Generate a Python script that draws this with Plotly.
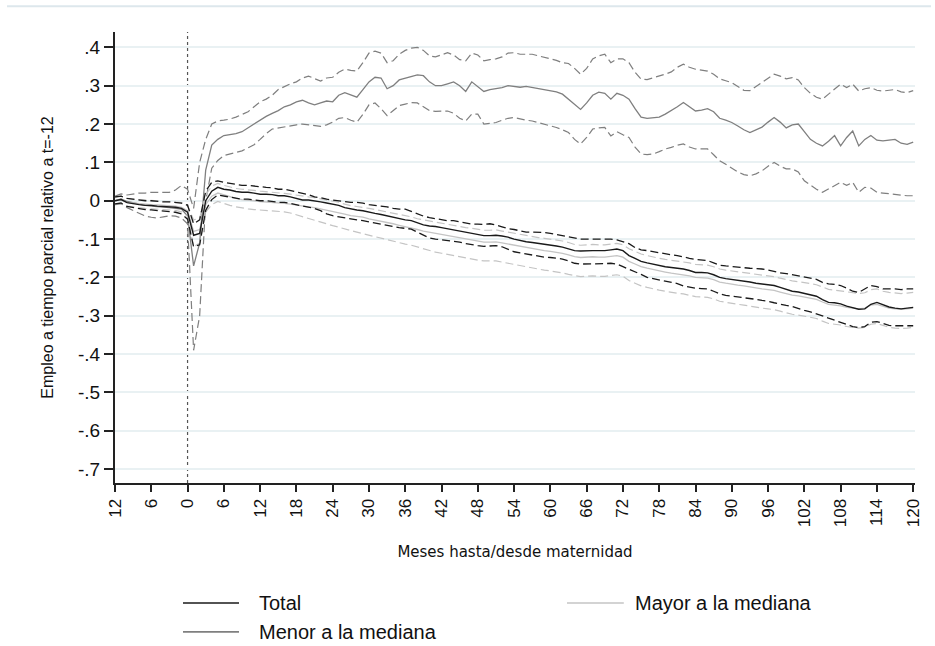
import plotly.graph_objects as go

months = list(range(-12, 121))

x_tick_vals = list(range(-12, 121, 6))
x_tick_text = [str(abs(v)) for v in x_tick_vals]
y_tick_vals = [0.4, 0.3, 0.2, 0.1, 0.0, -0.1, -0.2, -0.3, -0.4, -0.5, -0.6, -0.7]
y_tick_text = [".4", ".3", ".2", ".1", "0", "-.1", "-.2", "-.3", "-.4", "-.5", "-.6", "-.7"]

legend_labels = ["Total", "Mayor a la mediana", "Menor a la mediana"]

# Total
total = [0.0, 0.003, -0.005, -0.008, -0.01, -0.012, -0.012, -0.014, -0.015, -0.016, -0.017, -0.02,
         -0.03, -0.09, -0.085, 0.0, 0.025, 0.035, 0.03, 0.028, 0.024, 0.022, 0.022, 0.02, 0.017,
         0.017, 0.016, 0.013, 0.013, 0.01, 0.006, 0.002, 0.002, 0.0, -0.003, -0.006, -0.009,
         -0.012, -0.018, -0.022, -0.024, -0.026, -0.03, -0.033, -0.036, -0.04, -0.043, -0.047, -0.05,
         -0.052, -0.058, -0.063, -0.066, -0.067, -0.07, -0.073, -0.076, -0.08, -0.082, -0.085, -0.089,
         -0.091, -0.091, -0.09, -0.092, -0.095, -0.1, -0.104, -0.107, -0.109, -0.111, -0.113, -0.115,
         -0.118, -0.121, -0.125, -0.13, -0.131, -0.13, -0.13, -0.13, -0.13, -0.128, -0.126, -0.13,
         -0.143, -0.15, -0.158, -0.162, -0.166, -0.169, -0.172, -0.174, -0.176, -0.178, -0.182, -0.187,
         -0.187, -0.188, -0.193, -0.2, -0.203, -0.205, -0.207, -0.209, -0.212, -0.215, -0.217, -0.219,
         -0.221, -0.226, -0.232, -0.236, -0.238, -0.241, -0.245, -0.249, -0.258, -0.265, -0.266, -0.269,
         -0.275, -0.28, -0.283, -0.282, -0.27, -0.265, -0.272, -0.277, -0.28, -0.282, -0.28, -0.278]
total_hi = [0.01, 0.012, 0.006, 0.004, 0.002, 0.0, 0.0, -0.002, -0.003, -0.003, -0.004, -0.006,
            -0.012, -0.06, -0.05, 0.025, 0.048, 0.052, 0.048, 0.045, 0.042, 0.04, 0.04, 0.038, 0.036,
            0.035, 0.034, 0.03, 0.03, 0.026, 0.022, 0.02, 0.016, 0.01, 0.008, 0.004, 0.002,
            0.0, -0.002, -0.004, -0.004, -0.006, -0.01, -0.012, -0.013, -0.016, -0.02, -0.022, -0.022,
            -0.028, -0.035, -0.04, -0.044, -0.047, -0.05, -0.052, -0.052, -0.055, -0.058, -0.061, -0.061,
            -0.062, -0.06, -0.063, -0.068, -0.073, -0.075, -0.078, -0.082, -0.082, -0.082, -0.083, -0.085,
            -0.088, -0.092, -0.095, -0.097, -0.1, -0.1, -0.1, -0.1, -0.1, -0.1, -0.102, -0.106,
            -0.112, -0.122, -0.128, -0.13, -0.133, -0.136, -0.139, -0.141, -0.143, -0.147, -0.15, -0.153,
            -0.155, -0.156, -0.162, -0.168, -0.17, -0.172, -0.173, -0.174, -0.176, -0.177, -0.178, -0.181,
            -0.185, -0.188, -0.19, -0.193, -0.195, -0.198, -0.202, -0.205, -0.213, -0.217, -0.218, -0.221,
            -0.228, -0.236, -0.239, -0.23, -0.221, -0.224, -0.23, -0.23, -0.23, -0.232, -0.23, -0.23]
total_lo = [-0.008, -0.006, -0.015, -0.018, -0.02, -0.023, -0.024, -0.026, -0.027, -0.028, -0.03, -0.034,
            -0.048, -0.12, -0.115, -0.025, 0.003, 0.015, 0.012, 0.01, 0.006, 0.004, 0.004, 0.002, 0.0,
            0.0, -0.002, -0.004, -0.004, -0.007, -0.01, -0.013, -0.016, -0.02, -0.026, -0.034, -0.039,
            -0.042, -0.046, -0.048, -0.05, -0.052, -0.055, -0.058, -0.062, -0.065, -0.067, -0.07, -0.072,
            -0.074, -0.082, -0.09, -0.097, -0.1, -0.102, -0.105, -0.107, -0.108, -0.112, -0.115, -0.117,
            -0.119, -0.118, -0.117, -0.12, -0.127, -0.133, -0.136, -0.139, -0.142, -0.145, -0.147, -0.148,
            -0.15, -0.152, -0.157, -0.163, -0.165, -0.165, -0.165, -0.165, -0.164, -0.163, -0.165, -0.172,
            -0.178, -0.185, -0.192, -0.2, -0.203, -0.206, -0.21, -0.212, -0.216, -0.222, -0.226, -0.228,
            -0.229, -0.23, -0.236, -0.243, -0.247, -0.249, -0.251, -0.252, -0.254, -0.257, -0.26, -0.262,
            -0.266, -0.27, -0.273, -0.276, -0.28, -0.286, -0.29, -0.294, -0.3, -0.306, -0.312, -0.317,
            -0.323, -0.328, -0.331, -0.328, -0.317, -0.315, -0.32, -0.325, -0.326, -0.326, -0.325, -0.326]

# Mayor a la mediana
mayor = [0.0, 0.002, -0.004, -0.006, -0.008, -0.009, -0.01, -0.011, -0.012, -0.013, -0.014, -0.017,
         -0.026, -0.08, -0.075, -0.01, 0.012, 0.02, 0.015, 0.01, 0.006, 0.003, 0.002, 0.0, -0.002,
         -0.003, -0.004, -0.006, -0.007, -0.009, -0.012, -0.015, -0.016, -0.018, -0.021, -0.024, -0.027,
         -0.03, -0.035, -0.039, -0.041, -0.043, -0.047, -0.05, -0.053, -0.057, -0.06, -0.064, -0.067,
         -0.07, -0.075, -0.079, -0.082, -0.084, -0.087, -0.09, -0.093, -0.097, -0.1, -0.102, -0.106,
         -0.108, -0.108, -0.107, -0.11, -0.113, -0.117, -0.12, -0.123, -0.126, -0.128, -0.13, -0.132,
         -0.134, -0.137, -0.141, -0.146, -0.148, -0.147, -0.146, -0.147, -0.147, -0.145, -0.143, -0.147,
         -0.158, -0.165, -0.172, -0.176, -0.18, -0.183, -0.186, -0.189, -0.191, -0.193, -0.196, -0.2,
         -0.201, -0.202, -0.206, -0.212, -0.215, -0.218, -0.22, -0.222, -0.225, -0.228, -0.23, -0.232,
         -0.234, -0.238, -0.243, -0.246, -0.248, -0.251, -0.254, -0.257, -0.264, -0.27, -0.272, -0.274,
         -0.278, -0.28, -0.282, -0.28, -0.272, -0.27, -0.276, -0.28, -0.282, -0.283, -0.282, -0.28]
mayor_hi = [0.008, 0.012, 0.006, 0.004, 0.003, 0.002, 0.001, 0.0, -0.001, -0.002, -0.003, -0.005,
            -0.012, -0.05, -0.045, 0.015, 0.038, 0.045, 0.04, 0.036, 0.032, 0.03, 0.029, 0.027, 0.025,
            0.024, 0.022, 0.02, 0.019, 0.017, 0.014, 0.011, 0.01, 0.008, 0.005, 0.002, -0.001,
            -0.004, -0.009, -0.013, -0.015, -0.017, -0.02, -0.023, -0.026, -0.03, -0.033, -0.036, -0.039,
            -0.042, -0.047, -0.05, -0.053, -0.055, -0.058, -0.061, -0.064, -0.067, -0.07, -0.072, -0.075,
            -0.077, -0.077, -0.076, -0.079, -0.082, -0.086, -0.089, -0.092, -0.094, -0.096, -0.098, -0.1,
            -0.102, -0.105, -0.109, -0.114, -0.116, -0.115, -0.114, -0.115, -0.115, -0.113, -0.111, -0.115,
            -0.125, -0.132, -0.139, -0.143, -0.147, -0.15, -0.153, -0.155, -0.157, -0.159, -0.162, -0.166,
            -0.167, -0.168, -0.172, -0.178, -0.181, -0.183, -0.185, -0.187, -0.19, -0.192, -0.194, -0.196,
            -0.198, -0.202, -0.206, -0.209, -0.211, -0.213, -0.216, -0.219, -0.225, -0.231, -0.233, -0.235,
            -0.238, -0.24, -0.242, -0.24, -0.232, -0.23, -0.236, -0.239, -0.241, -0.242, -0.241, -0.239]
mayor_lo = [-0.008, -0.008, -0.014, -0.016, -0.019, -0.02, -0.021, -0.022, -0.023, -0.024, -0.025, -0.029,
            -0.04, -0.12, -0.11, -0.03, -0.01, -0.002, -0.008, -0.012, -0.016, -0.019, -0.021, -0.023, -0.024,
            -0.025, -0.026, -0.027, -0.029, -0.032, -0.037, -0.042, -0.046, -0.05, -0.055, -0.06, -0.065,
            -0.069, -0.074, -0.078, -0.082, -0.086, -0.09, -0.094, -0.097, -0.101, -0.105, -0.109, -0.113,
            -0.116, -0.121, -0.126, -0.13, -0.134, -0.137, -0.14, -0.143, -0.147, -0.15, -0.152, -0.155,
            -0.157, -0.157, -0.157, -0.16, -0.163, -0.167, -0.17, -0.173, -0.176, -0.178, -0.181, -0.183,
            -0.185, -0.188, -0.192, -0.196, -0.198, -0.197, -0.196, -0.197, -0.197, -0.195, -0.193, -0.197,
            -0.208, -0.215, -0.222, -0.226, -0.23, -0.233, -0.236, -0.239, -0.241, -0.243, -0.246, -0.25,
            -0.251, -0.252, -0.256, -0.262, -0.265, -0.268, -0.27, -0.272, -0.275, -0.278, -0.28, -0.282,
            -0.284, -0.288, -0.293, -0.296, -0.298, -0.301, -0.304, -0.307, -0.314, -0.32, -0.322, -0.324,
            -0.328, -0.33, -0.332, -0.33, -0.322, -0.32, -0.326, -0.33, -0.332, -0.333, -0.332, -0.33]

# Menor a la mediana
menor = [0.0, 0.005, -0.002, -0.006, -0.01, -0.012, -0.014, -0.015, -0.016, -0.018, -0.02, -0.022,
         -0.04, -0.17, -0.11, 0.08, 0.145, 0.16, 0.17, 0.172, 0.175, 0.18, 0.19, 0.2, 0.212,
         0.22, 0.228, 0.235, 0.245, 0.25, 0.258, 0.262, 0.255, 0.25, 0.255, 0.26, 0.258,
         0.275, 0.282, 0.275, 0.27, 0.29, 0.31, 0.322, 0.32, 0.292, 0.3, 0.315, 0.32,
         0.325, 0.328, 0.326, 0.31, 0.3, 0.3, 0.305, 0.31, 0.3, 0.285, 0.31, 0.298,
         0.285, 0.29, 0.292, 0.295, 0.3, 0.298, 0.296, 0.298, 0.295, 0.292, 0.29, 0.287,
         0.284, 0.278, 0.265, 0.25, 0.238, 0.255, 0.275, 0.283, 0.28, 0.265, 0.28, 0.275,
         0.265, 0.24, 0.218, 0.215, 0.216, 0.218, 0.226, 0.235, 0.245, 0.256, 0.245, 0.234,
         0.236, 0.24, 0.232, 0.215, 0.21, 0.204, 0.195, 0.185, 0.178, 0.184, 0.192, 0.205,
         0.217, 0.205, 0.19, 0.198, 0.2, 0.18, 0.16, 0.15, 0.143, 0.155, 0.17, 0.143,
         0.165, 0.182, 0.143, 0.16, 0.17, 0.158, 0.156, 0.158, 0.16, 0.15, 0.147, 0.153]
menor_hi = [0.012, 0.018, 0.015, 0.018, 0.02, 0.02, 0.022, 0.022, 0.022, 0.022, 0.028, 0.04,
            0.03, -0.02, 0.1, 0.16, 0.2, 0.208, 0.21, 0.213, 0.218, 0.224, 0.232, 0.245, 0.258,
            0.265, 0.275, 0.29, 0.298, 0.305, 0.31, 0.32, 0.325, 0.318, 0.312, 0.32, 0.322,
            0.335, 0.343, 0.34, 0.338, 0.36, 0.385, 0.39, 0.385, 0.36, 0.365, 0.382, 0.392,
            0.398, 0.4, 0.392, 0.378, 0.375, 0.38, 0.386, 0.38, 0.368, 0.365, 0.385, 0.38,
            0.365, 0.368, 0.37, 0.375, 0.385, 0.386, 0.382, 0.382, 0.382, 0.378, 0.374, 0.37,
            0.366, 0.36, 0.358, 0.345, 0.33, 0.345, 0.37, 0.378, 0.382, 0.36, 0.37, 0.37,
            0.36, 0.335, 0.317, 0.316, 0.32, 0.325, 0.33, 0.336, 0.348, 0.356, 0.348, 0.343,
            0.34, 0.338, 0.33, 0.318, 0.313, 0.308, 0.298, 0.288, 0.287, 0.298, 0.308, 0.32,
            0.33, 0.325, 0.318, 0.321, 0.315, 0.295, 0.28, 0.27, 0.265, 0.278, 0.292, 0.304,
            0.295, 0.304, 0.286, 0.292, 0.295, 0.288, 0.286, 0.288, 0.29, 0.284, 0.282, 0.287]
menor_lo = [-0.01, -0.008, -0.018, -0.025, -0.032, -0.04, -0.043, -0.045, -0.042, -0.039, -0.04, -0.045,
            -0.06, -0.39, -0.3, 0.0, 0.085, 0.105, 0.118, 0.122, 0.126, 0.13, 0.138, 0.146, 0.16,
            0.175, 0.187, 0.19, 0.193, 0.196, 0.198, 0.2, 0.198, 0.196, 0.194, 0.198, 0.205,
            0.215, 0.217, 0.21, 0.205, 0.225, 0.25, 0.255, 0.24, 0.222, 0.235, 0.248, 0.252,
            0.256, 0.255, 0.245, 0.235, 0.233, 0.234, 0.234, 0.228, 0.215, 0.208, 0.226, 0.226,
            0.2, 0.202, 0.204, 0.21, 0.215, 0.217, 0.213, 0.21, 0.208, 0.204, 0.198, 0.194,
            0.191, 0.185, 0.178, 0.16, 0.148, 0.165, 0.187, 0.19, 0.191, 0.169, 0.18, 0.172,
            0.165, 0.14, 0.122, 0.12, 0.122, 0.128, 0.135, 0.139, 0.145, 0.148, 0.14, 0.135,
            0.135, 0.135, 0.12, 0.104, 0.095, 0.085, 0.075, 0.068, 0.065, 0.07, 0.078, 0.09,
            0.1, 0.09, 0.083, 0.083, 0.075, 0.052, 0.04, 0.03, 0.022, 0.03, 0.039, 0.048,
            0.04, 0.048, 0.022, 0.035, 0.033, 0.022, 0.02, 0.018, 0.017, 0.014, 0.013, 0.013]

C_TOTAL = "#1a1a1a"
C_MAYOR = "#c4c4c4"
C_MENOR = "#7f7f7f"
DASH = "8px,4px"

fig = go.Figure()

def add(y, color, dash, width):
    fig.add_trace(go.Scatter(x=months, y=y, mode="lines", showlegend=False, hoverinfo="skip",
                             line=dict(color=color, width=width, dash=dash)))

add(menor_hi, C_MENOR, DASH, 1.2)
add(menor_lo, C_MENOR, DASH, 1.2)
add(menor, C_MENOR, "solid", 1.3)
add(mayor_hi, C_MAYOR, DASH, 1.2)
add(mayor_lo, C_MAYOR, DASH, 1.2)
add(mayor, C_MAYOR, "solid", 1.3)
add(total_hi, C_TOTAL, DASH, 1.3)
add(total_lo, C_TOTAL, DASH, 1.3)
add(total, C_TOTAL, "solid", 1.4)

shapes = [
    dict(type="line", xref="x", yref="paper", x0=0, x1=0, y0=0, y1=1,
         line=dict(color="#555555", width=1.2, dash="3px,3px"), layer="below"),
    dict(type="line", xref="paper", yref="y", x0=0, x1=1, y0=0, y1=0,
         line=dict(color="#444444", width=1.2, dash="5px,3px"), layer="below"),
    dict(type="line", xref="paper", yref="paper", x0=-0.135, x1=1.02, y0=1.057, y1=1.057,
         line=dict(color="#dde7ec", width=2)),
]

# manual legend
leg_rows = [(-0.266, 0.085, 0.155, 0.178, C_TOTAL, legend_labels[0]),
            (-0.266, 0.565, 0.636, 0.648, C_MAYOR, legend_labels[1]),
            (-0.330, 0.085, 0.155, 0.178, C_MENOR, legend_labels[2])]
annotations = []
for yy, x0, x1, xt, col, lab in leg_rows:
    shapes.append(dict(type="line", xref="paper", yref="paper", x0=x0, x1=x1, y0=yy, y1=yy,
                       line=dict(color=col, width=1.6)))
    annotations.append(dict(xref="paper", yref="paper", x=xt, y=yy, xanchor="left", yanchor="middle",
                            text=lab, showarrow=False,
                            font=dict(family="Liberation Sans, Arial", size=20, color="#111111")))

fig.update_layout(
    width=935, height=646,
    margin=dict(l=115, r=15, t=32, b=163),
    paper_bgcolor="white", plot_bgcolor="white",
    shapes=shapes, annotations=annotations,
    showlegend=False,
    xaxis=dict(range=[-12, 120.3], tickmode="array", tickvals=x_tick_vals, ticktext=x_tick_text,
               tickangle=-90, ticks="outside", ticklen=7, tickwidth=1.5, tickcolor="#222222",
               showline=True, linecolor="#222222", linewidth=2, showgrid=False, zeroline=False,
               tickfont=dict(family="Liberation Sans Narrow, Liberation Sans, Arial", size=17, color="#111111"),
               title=dict(text="Meses hasta/desde maternidad", standoff=20,
                          font=dict(family="DejaVu Sans", size=15, color="#111111"))),
    yaxis=dict(range=[-0.736, 0.44], tickmode="array", tickvals=y_tick_vals, ticktext=y_tick_text,
               ticks="outside", ticklen=9, tickwidth=1.5, tickcolor="#222222",
               showline=True, linecolor="#222222", linewidth=2, showgrid=True,
               gridcolor="#e9f1f3", gridwidth=1.5, zeroline=False,
               tickfont=dict(family="Liberation Sans Narrow, Liberation Sans, Arial", size=19, color="#111111"),
               title=dict(text="Empleo a tiempo parcial relativo a t=-12", standoff=20,
                          font=dict(family="Liberation Sans, Arial", size=16, color="#111111"))),
)

fig.write_html("out.html")
